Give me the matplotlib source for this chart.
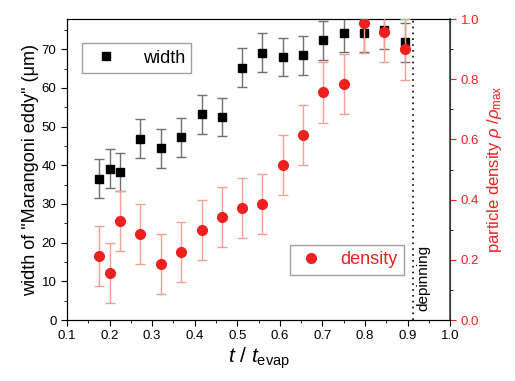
import numpy as np
import matplotlib.pyplot as plt
from matplotlib.ticker import MultipleLocator
from matplotlib.lines import Line2D

plt.rcParams['font.family'] = ['Liberation Sans', 'DejaVu Sans']
plt.rcParams['mathtext.fontset'] = 'custom'
plt.rcParams['mathtext.rm'] = 'Liberation Sans'
plt.rcParams['mathtext.it'] = 'Liberation Sans:italic'

# data
t_width = [0.176, 0.200, 0.225, 0.272, 0.320, 0.369, 0.417, 0.464, 0.511,
           0.559, 0.607, 0.655, 0.702, 0.750, 0.798, 0.844, 0.893]
width = [36.5, 39.1, 38.3, 46.9, 44.4, 47.2, 53.2, 52.5, 65.2,
         69.1, 68.0, 68.4, 72.3, 74.3, 74.3, 75.0, 71.8]
width_err = [5.0] * len(width)

t_dens = t_width
density = [0.213, 0.157, 0.329, 0.286, 0.185, 0.227, 0.299, 0.342, 0.371,
           0.385, 0.515, 0.614, 0.756, 0.785, 0.986, 0.957, 0.899]
dens_err = [0.10] * len(density)

t_depin = 0.913

red = '#ee2020'
fig = plt.figure(figsize=(5.15, 3.81), dpi=100)
ax1 = fig.add_axes([0.130, 0.160, 0.744, 0.790])
ax2 = ax1.twinx()

ax1.errorbar(t_width, width, yerr=width_err, fmt='s', color='black', ms=6,
             ecolor='#707070', elinewidth=1, capsize=3.5, capthick=1,
             zorder=3)
ax2.errorbar(t_dens, density, yerr=dens_err, fmt='o', color=red, ms=7,
             ecolor='#f5a090', elinewidth=1, capsize=3.5, capthick=1,
             zorder=3)

ax2.axvline(t_depin, color='black', ls=(0, (1, 2.5)), lw=1.2)
ax2.text(t_depin + 0.025, 0.14, 'depinning', rotation=90, fontsize=11,
         ha='center', va='center')

ax1.set_xlim(0.1, 1.0)
ax1.set_ylim(0, 77.8)
ax2.set_ylim(0, 1.0)

ax1.xaxis.set_major_locator(MultipleLocator(0.1))
ax1.xaxis.set_minor_locator(MultipleLocator(0.05))
ax1.yaxis.set_major_locator(MultipleLocator(10))
ax1.yaxis.set_minor_locator(MultipleLocator(5))
ax2.yaxis.set_major_locator(MultipleLocator(0.2))
ax2.yaxis.set_minor_locator(MultipleLocator(0.1))
ax2.set_yticklabels([f'{v:.1f}' for v in ax2.get_yticks()])

ax1.tick_params(which='both', direction='out', labelsize=9.5, top=False)
ax1.tick_params(which='major', length=4)
ax1.tick_params(which='minor', length=2.5)
ax2.tick_params(which='both', direction='out', labelsize=9.5, labelcolor=red)
ax2.tick_params(which='major', length=4, color=red)
ax2.tick_params(which='minor', length=2.5)
ax2.spines['right'].set_color('#444444')
ax2.spines['right'].set_linewidth(1.2)

ax1.set_xlabel(r'$t$ / $t_{\mathrm{evap}}$', fontsize=15, labelpad=2)
ax1.set_ylabel('width of "Marangoni eddy" (\u03bcm)', fontsize=13, labelpad=2)
ax2.set_ylabel(r'particle density $\rho$ /$\rho_{\mathrm{max}}$', fontsize=12,
               color=red, labelpad=4)

h_width = Line2D([], [], ls='none', marker='s', color='black', ms=6)
h_dens = Line2D([], [], ls='none', marker='o', color=red, ms=7)
leg1 = ax1.legend([h_width], ['width'], loc='center',
                  bbox_to_anchor=(0.182, 0.870), fontsize=13,
                  fancybox=False, edgecolor='#888888', handletextpad=1.1,
                  borderpad=0.35, handlelength=1.9)
leg2 = ax2.legend([h_dens], ['density'], loc='center',
                  bbox_to_anchor=(0.731, 0.200), fontsize=13,
                  fancybox=False, edgecolor='#888888', handletextpad=0.8,
                  borderpad=0.35, handlelength=1.6)
for txt in leg2.get_texts():
    txt.set_color(red)

fig.savefig('out.png', dpi=100)
